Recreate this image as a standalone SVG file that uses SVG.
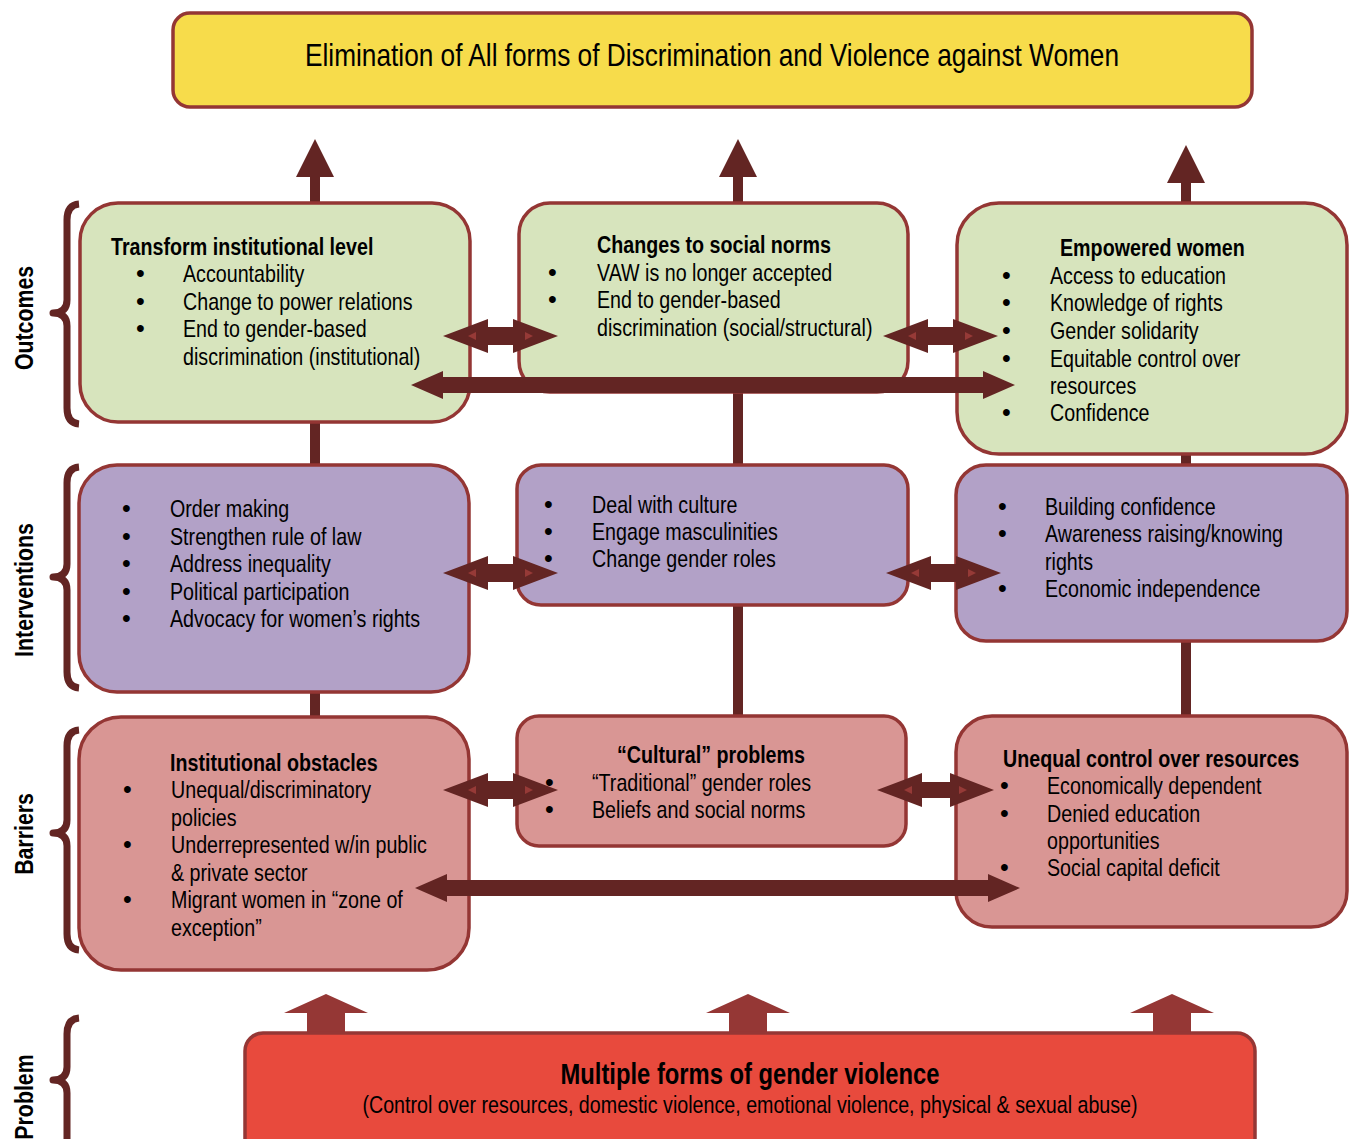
<svg xmlns="http://www.w3.org/2000/svg" width="1356" height="1139" viewBox="0 0 1356 1139">
  <style>
    text { font-family: 'Liberation Sans', Arial, sans-serif; fill: #000; }
    .body { font-size: 24px; }
    .dot { font-size: 25px; }
    .head { font-size: 24px; font-weight: bold; }
    .side { font-size: 26px; font-weight: bold; }
    .box { stroke: #943634; stroke-width: 3.5; }
    .goal { fill: #F7DC4B; }
    .outc { fill: #D7E4BD; }
    .intv { fill: #B2A1C7; }
    .barr { fill: #D99694; }
    .prob { fill: #E84A3D; stroke: #953735; stroke-width: 3.5; }
    .conn { fill: #632523; }
    .vline { stroke: #632523; stroke-width: 10; fill: none; }
    .tick { fill: #963A37; }
    .lift { fill: #953735; }
    .brace { fill: none; stroke: #632523; stroke-width: 7; stroke-linejoin: round; }
  </style>

  <!-- vertical spines behind the boxes, with arrowheads toward the goal -->
  <g id="connectors-vertical">
    <line class="vline" x1="315" y1="174" x2="315" y2="718"/>
    <polygon class="conn" points="315,139 334,177 296,177"/>
    <line class="vline" x1="738" y1="174" x2="738" y2="717"/>
    <polygon class="conn" points="738,139 757,177 719,177"/>
    <line class="vline" x1="1186" y1="180" x2="1186" y2="717"/>
    <polygon class="conn" points="1186,145 1205,183 1167,183"/>
  </g>

  <!-- goal -->
  <g id="goal">
    <rect class="box goal" x="173" y="13" width="1079" height="94" rx="17" stroke-width="4"/>
    <text transform="translate(712 66) scale(.82 1)" font-size="32" text-anchor="middle">Elimination of All forms of Discrimination and Violence against Women</text>
  </g>

  <!-- outcomes row -->
  <g id="outcome-institutional">
    <rect class="box outc" x="80" y="203" width="390" height="219" rx="38"/>
    <text class="head" transform="translate(111 255) scale(.82 1)">Transform institutional level</text>
    <text class="dot" x="136" y="282">•</text><text class="body" transform="translate(183 282) scale(.82 1)">Accountability</text>
    <text class="dot" x="136" y="310">•</text><text class="body" transform="translate(183 310) scale(.82 1)">Change to power relations</text>
    <text class="dot" x="136" y="337">•</text><text class="body" transform="translate(183 337) scale(.82 1)">End to gender-based</text>
    <text class="body" transform="translate(183 365) scale(.82 1)">discrimination (institutional)</text>
  </g>
  <g id="outcome-norms">
    <rect class="box outc" x="519" y="203" width="389" height="189" rx="31"/>
    <text class="head" transform="translate(597 253) scale(.82 1)">Changes to social norms</text>
    <text class="dot" x="548" y="281">•</text><text class="body" transform="translate(597 281) scale(.82 1)">VAW is no longer accepted</text>
    <text class="dot" x="548" y="308">•</text><text class="body" transform="translate(597 308) scale(.82 1)">End to gender-based</text>
    <text class="body" transform="translate(597 336) scale(.82 1)">discrimination (social/structural)</text>
  </g>
  <g id="outcome-empowered">
    <rect class="box outc" x="957" y="203" width="390" height="251" rx="42"/>
    <text class="head" transform="translate(1060 256) scale(.82 1)">Empowered women</text>
    <text class="dot" x="1002" y="284">•</text><text class="body" transform="translate(1050 284) scale(.82 1)">Access to education</text>
    <text class="dot" x="1002" y="311">•</text><text class="body" transform="translate(1050 311) scale(.82 1)">Knowledge of rights</text>
    <text class="dot" x="1002" y="339">•</text><text class="body" transform="translate(1050 339) scale(.82 1)">Gender solidarity</text>
    <text class="dot" x="1002" y="367">•</text><text class="body" transform="translate(1050 367) scale(.82 1)">Equitable control over</text>
    <text class="body" transform="translate(1050 394) scale(.82 1)">resources</text>
    <text class="dot" x="1002" y="421">•</text><text class="body" transform="translate(1050 421) scale(.82 1)">Confidence</text>
  </g>

  <!-- interventions row -->
  <g id="intervention-institutional">
    <rect class="box intv" x="79" y="465" width="390" height="227" rx="38"/>
    <text class="dot" x="122" y="517">•</text><text class="body" transform="translate(170 517) scale(.82 1)">Order making</text>
    <text class="dot" x="122" y="545">•</text><text class="body" transform="translate(170 545) scale(.82 1)">Strengthen rule of law</text>
    <text class="dot" x="122" y="572">•</text><text class="body" transform="translate(170 572) scale(.82 1)">Address inequality</text>
    <text class="dot" x="122" y="600">•</text><text class="body" transform="translate(170 600) scale(.82 1)">Political participation</text>
    <text class="dot" x="122" y="627">•</text><text class="body" transform="translate(170 627) scale(.82 1)">Advocacy for women’s rights</text>
  </g>
  <g id="intervention-culture">
    <rect class="box intv" x="517" y="465" width="391" height="140" rx="24"/>
    <text class="dot" x="544" y="513">•</text><text class="body" transform="translate(592 513) scale(.82 1)">Deal with culture</text>
    <text class="dot" x="544" y="540">•</text><text class="body" transform="translate(592 540) scale(.82 1)">Engage masculinities</text>
    <text class="dot" x="544" y="567">•</text><text class="body" transform="translate(592 567) scale(.82 1)">Change gender roles</text>
  </g>
  <g id="intervention-women">
    <rect class="box intv" x="956" y="465" width="391" height="176" rx="30"/>
    <text class="dot" x="998" y="515">•</text><text class="body" transform="translate(1045 515) scale(.82 1)">Building confidence</text>
    <text class="dot" x="998" y="542">•</text><text class="body" transform="translate(1045 542) scale(.82 1)">Awareness raising/knowing</text>
    <text class="body" transform="translate(1045 570) scale(.82 1)">rights</text>
    <text class="dot" x="998" y="597">•</text><text class="body" transform="translate(1045 597) scale(.82 1)">Economic independence</text>
  </g>

  <!-- barriers row -->
  <g id="barrier-institutional">
    <rect class="box barr" x="79" y="717" width="390" height="253" rx="42"/>
    <text class="head" transform="translate(170 771) scale(.82 1)">Institutional obstacles</text>
    <text class="dot" x="123" y="798">•</text><text class="body" transform="translate(171 798) scale(.82 1)">Unequal/discriminatory</text>
    <text class="body" transform="translate(171 826) scale(.82 1)">policies</text>
    <text class="dot" x="123" y="853">•</text><text class="body" transform="translate(171 853) scale(.82 1)">Underrepresented w/in public</text>
    <text class="body" transform="translate(171 881) scale(.82 1)">&amp; private sector</text>
    <text class="dot" x="123" y="908">•</text><text class="body" transform="translate(171 908) scale(.82 1)">Migrant women in “zone of</text>
    <text class="body" transform="translate(171 936) scale(.82 1)">exception”</text>
  </g>
  <g id="barrier-cultural">
    <rect class="box barr" x="517" y="716" width="389" height="130" rx="22"/>
    <text class="head" transform="translate(617 763) scale(.82 1)">“Cultural” problems</text>
    <text class="dot" x="545" y="791">•</text><text class="body" transform="translate(592 791) scale(.82 1)">“Traditional” gender roles</text>
    <text class="dot" x="545" y="818">•</text><text class="body" transform="translate(592 818) scale(.82 1)">Beliefs and social norms</text>
  </g>
  <g id="barrier-resources">
    <rect class="box barr" x="956" y="716" width="391" height="211" rx="36"/>
    <text class="head" transform="translate(1003 767) scale(.82 1)">Unequal control over resources</text>
    <text class="dot" x="1000" y="794">•</text><text class="body" transform="translate(1047 794) scale(.82 1)">Economically dependent</text>
    <text class="dot" x="1000" y="822">•</text><text class="body" transform="translate(1047 822) scale(.82 1)">Denied education</text>
    <text class="body" transform="translate(1047 849) scale(.82 1)">opportunities</text>
    <text class="dot" x="1000" y="876">•</text><text class="body" transform="translate(1047 876) scale(.82 1)">Social capital deficit</text>
  </g>

  <!-- problem -->
  <g id="lift-arrows">
    <polygon class="lift" points="326,994 368,1013 345,1013 345,1034 307,1034 307,1013 284,1013"/>
    <polygon class="lift" points="748,994 790,1013 767,1013 767,1034 729,1034 729,1013 706,1013"/>
    <polygon class="lift" points="1172,994 1214,1013 1191,1013 1191,1034 1153,1034 1153,1013 1130,1013"/>
  </g>
  <g id="problem">
    <rect class="prob" x="245" y="1033" width="1010" height="130" rx="18"/>
    <text transform="translate(750 1084) scale(.82 1)" font-size="29" font-weight="bold" text-anchor="middle">Multiple forms of gender violence</text>
    <text transform="translate(750 1113) scale(.82 1)" font-size="24" text-anchor="middle">(Control over resources, domestic violence, emotional violence, physical &amp; sexual abuse)</text>
  </g>

  <!-- horizontal two-way links between neighbouring boxes -->
  <g id="connectors-horizontal">
    <!-- outcomes -->
    <polygon class="conn" points="443,336 488,319 488,327 513,327 513,319 558,336 513,353 513,345 488,345 488,353"/>
    <polygon class="tick" points="468,336 476,332 476,340"/><polygon class="tick" points="533,336 525,332 525,340"/>
    <polygon class="conn" points="883,336 928,319 928,327 953,327 953,319 998,336 953,353 953,345 928,345 928,353"/>
    <polygon class="tick" points="908,336 916,332 916,340"/><polygon class="tick" points="973,336 965,332 965,340"/>
    <polygon class="conn" points="411,385 443,371 443,377 983,377 983,371 1015,385 983,399 983,393 443,393 443,399"/>
    <!-- interventions -->
    <polygon class="conn" points="443,573 488,556 488,564 513,564 513,556 558,573 513,590 513,582 488,582 488,590"/>
    <polygon class="tick" points="468,573 476,569 476,577"/><polygon class="tick" points="533,573 525,569 525,577"/>
    <polygon class="conn" points="886,573 931,556 931,564 956,564 956,556 1001,573 956,590 956,582 931,582 931,590"/>
    <polygon class="tick" points="911,573 919,569 919,577"/><polygon class="tick" points="976,573 968,569 968,577"/>
    <!-- barriers -->
    <polygon class="conn" points="443,790 488,773 488,781 513,781 513,773 558,790 513,807 513,799 488,799 488,807"/>
    <polygon class="tick" points="468,790 476,786 476,794"/><polygon class="tick" points="533,790 525,786 525,794"/>
    <polygon class="conn" points="877,790 922,773 922,782 950,782 950,773 994,790 950,807 950,798 922,798 922,807"/>
    <polygon class="tick" points="904,790 912,786 912,794"/><polygon class="tick" points="967,790 959,786 959,794"/>
    <polygon class="conn" points="415,888 447,874 447,880 988,880 988,874 1020,888 988,902 988,896 447,896 447,902"/>
  </g>

  <!-- row braces and labels -->
  <g id="row-labels">
    <path class="brace" d="M79,204 Q67,205 67,220 L67,300 Q67,313 53,313 Q67,313 67,326 L67,408 Q67,423 79,424"/>
    <text class="side" transform="translate(33 318) rotate(-90) scale(.82 1)" text-anchor="middle">Outcomes</text>
    <path class="brace" d="M79,467 Q67,468 67,483 L67,564 Q67,577 53,577 Q67,577 67,590 L67,672 Q67,687 79,688"/>
    <text class="side" transform="translate(33 590) rotate(-90) scale(.82 1)" text-anchor="middle">Interventions</text>
    <path class="brace" d="M79,730 Q67,731 67,746 L67,820 Q67,833 53,833 Q67,833 67,846 L67,934 Q67,949 79,950"/>
    <text class="side" transform="translate(33 834) rotate(-90) scale(.82 1)" text-anchor="middle">Barriers</text>
    <path class="brace" d="M79,1018 Q67,1019 67,1034 L67,1067 Q67,1080 53,1080 Q67,1080 67,1093 L67,1150"/>
    <text class="side" transform="translate(33 1097) rotate(-90) scale(.82 1)" text-anchor="middle">Problem</text>
  </g>
</svg>
